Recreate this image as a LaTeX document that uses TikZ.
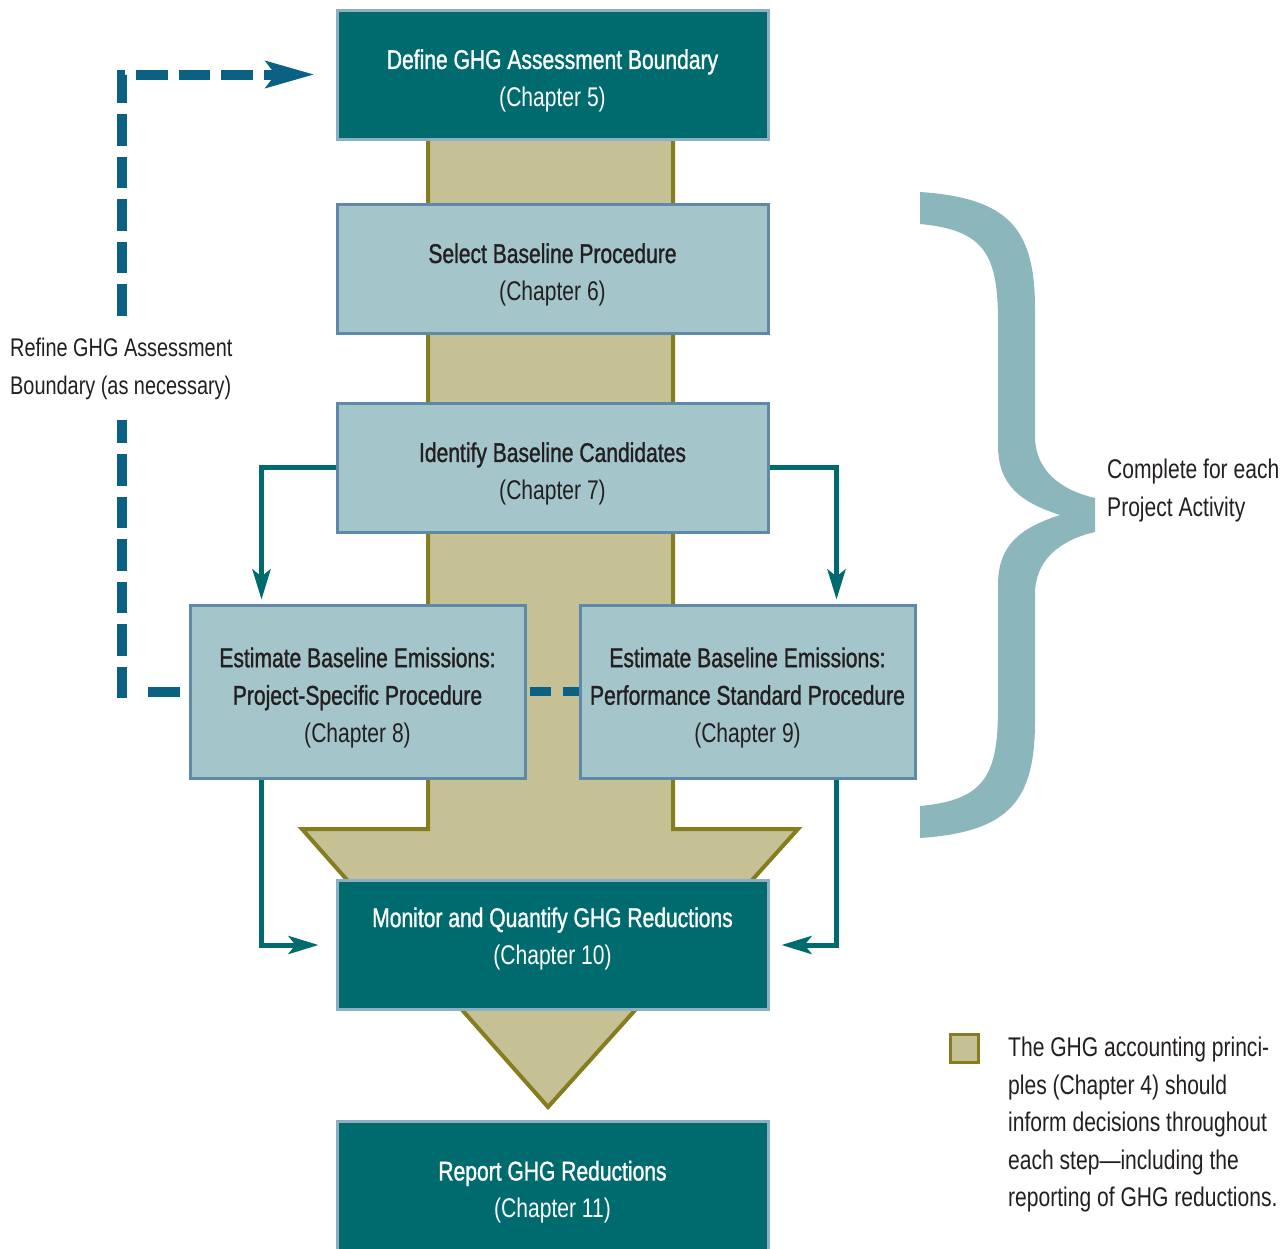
\documentclass[tikz,border=0pt]{standalone}
\usepackage{fontspec}
\setmainfont{Liberation Sans}[FakeStretch=0.78]
\newfontfamily\headfont{Liberation Sans}[FakeStretch=0.78,FakeBold=1.2]
\usetikzlibrary{arrows.meta}
\definecolor{boxdark}{HTML}{006B6F}
\definecolor{boxlight}{HTML}{A4C6CA}
\definecolor{edgedark}{HTML}{8DAFC4}
\definecolor{edgelight}{HTML}{5E89A8}
\definecolor{tan}{HTML}{C6C194}
\definecolor{olive}{HTML}{857D20}
\definecolor{dashblue}{HTML}{0A6184}
\definecolor{flowteal}{HTML}{006B6F}
\definecolor{bracecol}{HTML}{8BB6BB}
\definecolor{ink}{HTML}{231F20}
\newcommand\topgap{\rule{0pt}{32pt}}

\begin{document}
\begin{tikzpicture}[x=1pt,y=-1pt,
  chbox/.style={draw,line width=3pt,align=center,minimum width=431pt,minimum height=129pt,inner sep=0pt,font=\fontsize{27}{37.5}\selectfont},
  darkbox/.style={chbox,fill=boxdark,draw=edgedark,text=white},
  lightbox/.style={chbox,fill=boxlight,draw=edgelight,text=ink},
  estbox/.style={lightbox,minimum width=335pt,minimum height=173pt},
  lift/.style={execute at end node={\rule[-18pt]{0pt}{18pt}}},
  flow/.style={draw=flowteal,line width=5pt,-{Stealth[length=30pt,width=18pt,inset=7pt]}},
  dashline/.style={draw=dashblue,line width=10pt,dash pattern=on 31.5pt off 11pt},
  note/.style={align=left,text=ink,font=\fontsize{27}{37.5}\selectfont,inner sep=0pt}]
\useasboundingbox (0,0) rectangle (1284,1248);
% big arrow behind the steps
\draw[fill=tan,draw=olive,line width=4pt] (428,140) -- (428,829) -- (302,829) -- (548,1107) -- (798,829) -- (673,829) -- (673,140);
% brace
\fill[bracecol] (920,192) .. controls (1010,198) and (1035,230) .. (1035,309) -- (1035,436)
  .. controls (1035,470) and (1060,490) .. (1095,498) -- (1095,532)
  .. controls (1060,540) and (1035,560) .. (1035,594) -- (1035,721)
  .. controls (1035,800) and (1010,832) .. (920,838) -- (920,806)
  .. controls (985,800) and (998,775) .. (998,708) -- (998,585)
  .. controls (998,545) and (1020,528) .. (1060,515)
  .. controls (1020,502) and (998,485) .. (998,445) -- (998,322)
  .. controls (998,255) and (985,230) .. (920,224) -- cycle;

\node[darkbox] (define) at (552.5,74.5) {\topgap{\headfont Define GHG Assessment Boundary}\\(Chapter 5)};
\node[lightbox] (select) at (552.5,268.5) {\topgap{\headfont Select Baseline Procedure}\\(Chapter 6)};
\node[lightbox] (ident) at (552.5,467.5) {\topgap{\headfont Identify Baseline Candidates}\\(Chapter 7)};
\node[estbox] (estA) at (357.5,691.5) {\topgap{\headfont Estimate Baseline Emissions:}\\{\headfont Project-Specific Procedure}\\(Chapter 8)};
\node[estbox] (estB) at (747.5,691.5) {\topgap{\headfont Estimate Baseline Emissions:}\\{\headfont Performance Standard Procedure}\\(Chapter 9)};
\node[darkbox,lift] (monitor) at (552.5,945) {{\headfont Monitor and Quantify GHG Reductions}\\(Chapter 10)};
\node[darkbox] (report) at (552.5,1186) {\topgap{\headfont Report GHG Reductions}\\(Chapter 11)};

\draw[flow,shorten >=4pt] (ident.west) -| ([xshift=73pt]estA.north west);
\draw[flow,shorten >=4pt] (ident.east) -| ([xshift=-80pt]estB.north east);
\draw[flow,shorten >=17pt] ([xshift=73pt]estA.south west) |- (monitor.west);
\draw[flow,shorten >=12pt] ([xshift=-80pt]estB.south east) |- (monitor.east);

\coordinate (turn) at (122,698);
\draw[dashline,dash pattern=on 32pt off 40pt,shorten <=9pt] (estA.west) -- (estA.west -| turn);
\draw[dashline,shorten >=21pt,-{Stealth[length=48pt,width=26pt,inset=9pt]}] (turn) |- (define.west);
\draw[dashline,dash pattern=on 21pt off 12pt,line width=9pt,shorten <=3pt] (estA.east) -- (estB.west);
\node[note,fill=white,inner ysep=20pt,anchor=west,font=\fontsize{25.5}{37.5}\selectfont] (refine) at (10,369) {Refine GHG Assessment\\Boundary (as necessary)};
\node[note,anchor=west] (activity) at (1107,490.5) {Complete for each\\Project Activity};

% key
\node[draw=olive,fill=tan,line width=3pt,minimum size=28pt,inner sep=0pt] (key) at (964.5,1048) {};
\node[note,anchor=north west] (keytext) at (1008,1037) {The GHG accounting princi-\\ples (Chapter 4) should\\inform decisions throughout\\each step---including the\\reporting of GHG reductions.};
\end{tikzpicture}
\end{document}
